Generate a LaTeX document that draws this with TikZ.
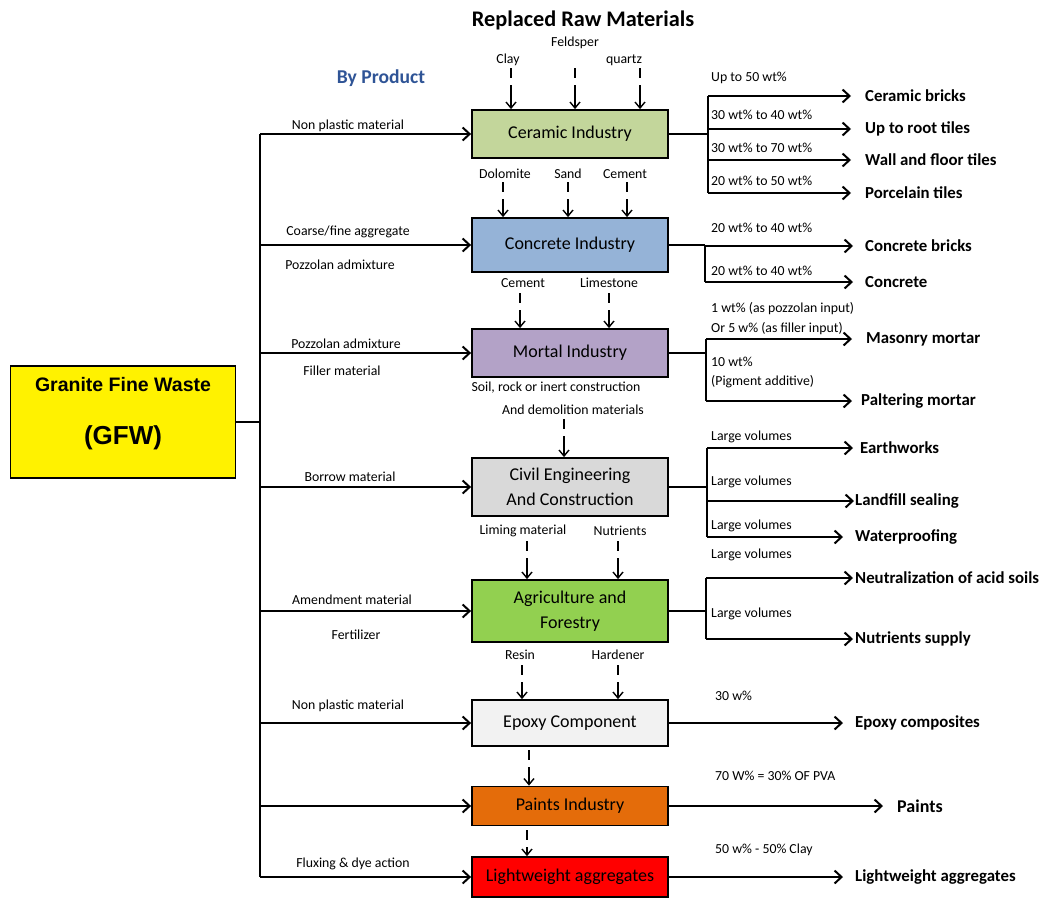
\documentclass[tikz,border=0pt]{standalone}
\usepackage{fontspec}
\setmainfont{Carlito}
\newfontfamily\gfwfont{Liberation Sans}
\usetikzlibrary{arrows.meta}

\definecolor{cerfill}{HTML}{C3D69B}
\definecolor{confill}{HTML}{95B3D7}
\definecolor{morfill}{HTML}{B3A2C7}
\definecolor{civfill}{HTML}{D9D9D9}
\definecolor{agrfill}{HTML}{92D050}
\definecolor{epofill}{HTML}{F2F2F2}
\definecolor{paifill}{HTML}{E46C0A}
\definecolor{ligfill}{HTML}{FF0000}
\definecolor{byblue}{HTML}{2F5496}

\tikzset{
  indbox/.style={draw, line width=1.8pt, minimum width=196pt, align=center, inner sep=0pt, font=\fontsize{18}{25}\selectfont},
  lbl/.style={inner sep=0pt, font=\fontsize{13.8}{16}\selectfont},
  pct/.style={lbl, anchor=west},
  prod/.style={inner sep=0pt, anchor=west, font=\bfseries\fontsize{16.8}{19}\selectfont},
  wire/.style={line width=2pt},
  feed/.style={wire, -{Straight Barb[length=7pt,width=13pt]}},
  raw/.style={line width=1.4pt, dash pattern=on 10pt off 7pt on 30pt off 7pt, -{Straight Barb[length=6pt,width=10pt]}},
}

\begin{document}
\begin{tikzpicture}[x=1pt, y=-1pt]
  \useasboundingbox (0,0) rectangle (1043,897);

  % headings
  \node[font=\bfseries\fontsize{22.3}{26}\selectfont] (title) at (583,20) {Replaced Raw Materials};
  \node[font=\bfseries\fontsize{19.6}{23}\selectfont, text=byblue] (byprod) at (381,78) {By Product};

  % source box
  \node[draw, line width=1.5pt, fill=yellow, minimum width=225pt, minimum height=112pt] (gfw) at (123,422) {};
  \node[font=\gfwfont\bfseries\fontsize{19.5}{22}\selectfont] (gfwname) at (123,385) {Granite Fine Waste};
  \node[font=\gfwfont\bfseries\fontsize{26}{30}\selectfont] (gfwabbr) at (123,438) {(GFW)};

  % industries
  \node[indbox, fill=cerfill, minimum height=48pt] (cer) at (570,134) {Ceramic Industry};
  \node[indbox, fill=confill, minimum height=54pt] (con) at (570,245) {Concrete Industry};
  \node[indbox, fill=morfill, minimum height=48pt] (mor) at (570,353) {Mortal Industry};
  \node[indbox, fill=civfill, minimum height=58pt] (civ) at (570,487) {Civil Engineering\\And Construction};
  \node[indbox, fill=agrfill, minimum height=62pt] (agr) at (570,611) {Agriculture and\\Forestry};
  \node[indbox, fill=epofill, minimum height=46pt] (epo) at (570,723) {Epoxy Component};
  \node[indbox, fill=paifill, minimum height=39pt] (pai) at (570,806) {Paints Industry};
  \node[indbox, fill=ligfill, minimum height=40pt] (lig) at (570,877) {Lightweight aggregates};

  % trunk from GFW
  \coordinate (trunktop) at (260,138);
  \draw[wire] (gfw.east) -- (gfw.east -| trunktop);
  \draw[wire] (trunktop |- cer.west) -- (trunktop |- lig.west);
  \foreach \b in {cer,con,mor,civ,agr,epo,pai,lig}
    \draw[feed] (trunktop |- \b.west) -- (\b.west);

  % by product labels
  \node[lbl] (np1) at (348,126) {Non plastic material};
  \node[lbl] (cfa) at (348,232) {Coarse/fine aggregate};
  \node[lbl] (pz1) at (340,265) {Pozzolan admixture};
  \node[lbl] (pz2) at (346,344) {Pozzolan admixture};
  \node[lbl] (fil) at (342,371) {Filler material};
  \node[lbl] (bor) at (350,477) {Borrow material};
  \node[lbl] (ame) at (352,600) {Amendment material};
  \node[lbl] (fer) at (356,635) {Fertilizer};
  \node[lbl] (np2) at (348,706) {Non plastic material};
  \node[lbl] (flx) at (353,864) {Fluxing \& dye action};

  % replaced raw materials
  \node[lbl] (feld) at (575,43) {Feldsper};
  \node[lbl] (clay) at (508,60) {Clay};
  \node[lbl] (qtz) at (624,60) {quartz};
  \foreach \x in {511,575,640}
    \draw[raw] (\x,68) -- (cer.north -| \x,0);

  \node[lbl] (dol) at (505,174) {Dolomite};
  \node[lbl] (sand) at (568,174) {Sand};
  \node[lbl] (cem1) at (625,174) {Cement};
  \foreach \x in {503,568,627}
    \draw[raw] (\x,182) -- (con.north -| \x,0);

  \node[lbl] (cem2) at (523,283) {Cement};
  \node[lbl] (lime) at (609,283) {Limestone};
  \foreach \x in {520,609}
    \draw[raw] (\x,293) -- (mor.north -| \x,0);

  \node[lbl] (soil) at (556,388) {Soil, rock or inert construction};
  \node[lbl] (demo) at (573,410) {And demolition materials};
  \draw[raw] (564,419) -- (civ.north -| 564,0);

  \node[lbl] (lim) at (523,531) {Liming material};
  \node[lbl] (nut) at (620,531) {Nutrients};
  \foreach \x in {527,618}
    \draw[raw] (\x,541) -- (agr.north -| \x,0);

  \node[lbl] (res) at (520,655) {Resin};
  \node[lbl] (har) at (618,655) {Hardener};
  \foreach \x in {522,618}
    \draw[raw] (\x,665) -- (epo.north -| \x,0);

  \draw[raw] (529,750) -- (pai.north -| 529,0);
  \draw[raw] (527,830) -- (lig.north -| 527,0);

  % ceramic products
  \coordinate (cerx) at (708,0);
  \node[prod] (cb) at (865,96) {Ceramic bricks};
  \node[prod] (rt) at (865,129) {Up to root tiles};
  \node[prod] (wf) at (865,160) {Wall and floor tiles};
  \node[prod] (pt) at (865,193) {Porcelain tiles};
  \draw[wire] (cer.east) -- (cer.east -| cerx);
  \draw[wire] (cb.west -| cerx) -- (pt.west -| cerx);
  \foreach \t in {cb,rt,wf,pt}
    \draw[feed] (\t.west -| cerx) -- ([xshift=-14pt]\t.west);
  \node[pct] (cp1) at (711,78) {Up to 50 wt\%};
  \node[pct] (cp2) at (711,115) {30 wt\% to 40 wt\%};
  \node[pct] (cp3) at (711,148) {30 wt\% to 70 wt\%};
  \node[pct] (cp4) at (711,181) {20 wt\% to 50 wt\%};

  % concrete products
  \coordinate (conx) at (705,0);
  \node[prod] (crb) at (865,246) {Concrete bricks};
  \node[prod] (crt) at (865,282) {Concrete};
  \draw[wire] (con.east) -- (con.east -| conx);
  \draw[wire] (crb.west -| conx) -- (crt.west -| conx);
  \foreach \t in {crb,crt}
    \draw[feed] (\t.west -| conx) -- ([xshift=-12pt]\t.west);
  \node[pct] (kp1) at (711,228) {20 wt\% to 40 wt\%};
  \node[pct] (kp2) at (711,271) {20 wt\% to 40 wt\%};

  % mortar products
  \coordinate (morx) at (706,0);
  \node[prod] (mm) at (866,339) {Masonry mortar};
  \node[prod] (pm) at (861,401) {Paltering mortar};
  \draw[wire] (mor.east) -- (mor.east -| morx);
  \draw[wire] (mm.west -| morx) -- (pm.west -| morx);
  \draw[feed] (mm.west -| morx) -- ([xshift=-14pt]mm.west);
  \draw[feed] (pm.west -| morx) -- ([xshift=-9pt]pm.west);
  \node[pct] (mp1) at (711,309) {1 wt\% (as pozzolan input)};
  \node[pct] (mp2) at (711,329) {Or 5 w\% (as filler input)};
  \node[pct] (mp3) at (711,362) {10 wt\%};
  \node[pct] (mp4) at (711,382) {(Pigment additive)};

  % civil products
  \coordinate (civx) at (707,0);
  \node[prod] (ew) at (860,448) {Earthworks};
  \node[prod] (ls) at (855,501) {Landfill sealing};
  \node[prod] (wp) at (855,537) {Waterproofing};
  \draw[wire] (civ.east) -- (civ.east -| civx);
  \draw[wire] (ew.west -| civx) -- (wp.west -| civx);
  \draw[feed] (ew.west -| civx) -- ([xshift=-7pt]ew.west);
  \draw[feed] (ls.west -| civx) -- ([xshift=-1pt]ls.west);
  \draw[feed] (wp.west -| civx) -- ([xshift=-12pt]wp.west);
  \node[pct] (vp1) at (711,437) {Large volumes};
  \node[pct] (vp2) at (711,482) {Large volumes};
  \node[pct] (vp3) at (711,526) {Large volumes};

  % agriculture products
  \coordinate (agrx) at (706,0);
  \node[prod] (na) at (855,578) {Neutralization of acid soils};
  \node[prod] (ns) at (855,639) {Nutrients supply};
  \draw[wire] (agr.east) -- (agr.east -| agrx);
  \draw[wire] (na.west -| agrx) -- (ns.west -| agrx);
  \foreach \t in {na,ns}
    \draw[feed] (\t.west -| agrx) -- ([xshift=-2pt]\t.west);
  \node[pct] (ap1) at (711,555) {Large volumes};
  \node[pct] (ap2) at (711,614) {Large volumes};

  % single products
  \node[prod] (ec) at (855,723) {Epoxy composites};
  \node[prod, font=\bfseries\fontsize{18}{21}\selectfont] (pa) at (897,806) {Paints};
  \node[prod] (la) at (855,877) {Lightweight aggregates};
  \draw[feed] (epo.east) -- ([xshift=-12pt]ec.west);
  \draw[feed] (pai.east) -- ([xshift=-14pt]pa.west);
  \draw[feed] (lig.east) -- ([xshift=-12pt]la.west);
  \node[pct] (ep1) at (715,696) {30 w\%};
  \node[pct] (pp1) at (715,776) {70 W\% = 30\% OF PVA};
  \node[pct] (lp1) at (715,850) {50 w\% - 50\% Clay};
\end{tikzpicture}
\end{document}
